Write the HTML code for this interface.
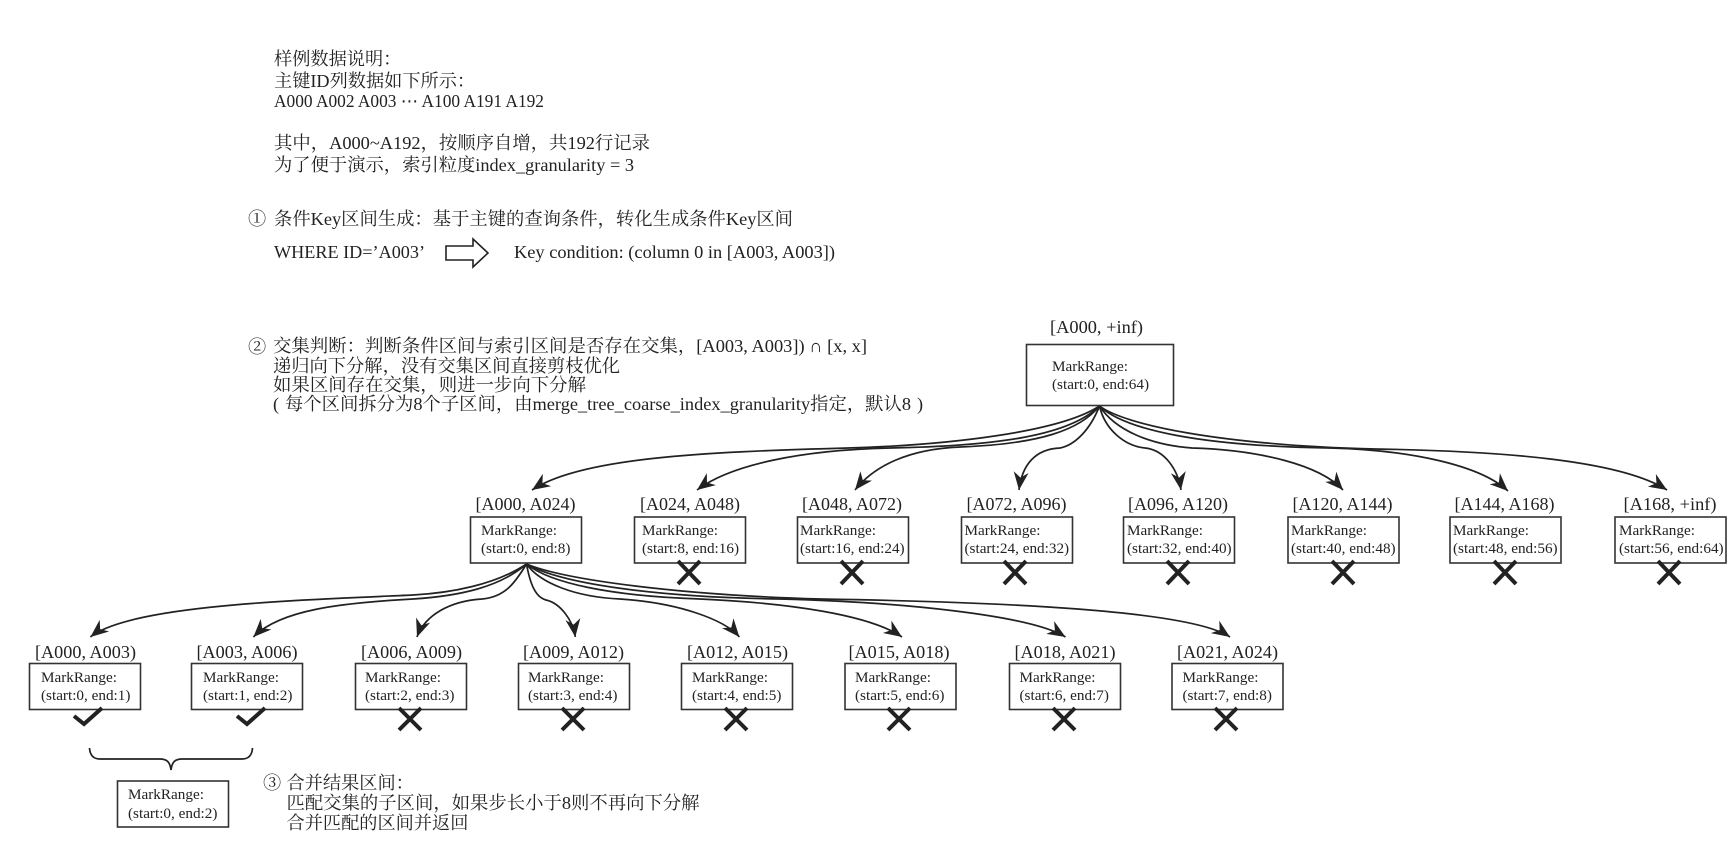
<!DOCTYPE html>
<html><head><meta charset="utf-8"><style>
html,body{margin:0;padding:0;background:#fff}
svg{display:block}
text{font-family:"Liberation Serif","Noto Serif CJK SC",serif;fill:#222}
.t{font-size:18.2px}
.l{font-size:18px}
.m{font-size:15.2px}
.b{fill:#fff;stroke:#333;stroke-width:1.6}
.c{fill:none;stroke:#222;stroke-width:1.7}
.x{fill:none;stroke:#222;stroke-width:4}
</style></head><body>
<svg width="1736" height="853" viewBox="0 0 1736 853" xmlns="http://www.w3.org/2000/svg">
<defs><marker id="a" markerUnits="userSpaceOnUse" markerWidth="20" markerHeight="18" refX="18" refY="8" orient="auto"><path d="M0,0.5 L18,8 L0,15.5 L5.5,8 Z" fill="#222"/></marker></defs>

<text class="t" x="274" y="65">样例数据说明：</text>
<text class="t" x="274" y="87">主键ID列数据如下所示：</text>
<text class="t" x="274" y="107" textLength="270" lengthAdjust="spacingAndGlyphs">A000 A002 A003 <tspan style="font-family:'DejaVu Sans',sans-serif">⋯</tspan> A100 A191 A192</text>
<text class="t" x="274" y="149" textLength="376" lengthAdjust="spacingAndGlyphs">其中，A000~A192，按顺序自增，共192行记录</text>
<text class="t" x="274" y="171" textLength="360" lengthAdjust="spacingAndGlyphs">为了便于演示，索引粒度index_granularity = 3</text>
<text class="t" x="248" y="225">①</text>
<text class="t" x="274" y="225" textLength="519" lengthAdjust="spacingAndGlyphs">条件Key区间生成：基于主键的查询条件，转化生成条件Key区间</text>
<text class="t" x="274" y="258" textLength="151" lengthAdjust="spacingAndGlyphs">WHERE ID=’A003’</text>
<path d="M446,246 H473 V239 L488,253 L473,267 V260 H446 Z" fill="#fff" stroke="#222" stroke-width="1.6"/>
<text class="t" x="514" y="258" textLength="321" lengthAdjust="spacingAndGlyphs">Key condition: (column 0 in [A003, A003])</text>
<text class="t" x="248" y="353">②</text>
<text class="t" x="273" y="352" textLength="594" lengthAdjust="spacingAndGlyphs">交集判断：判断条件区间与索引区间是否存在交集，[A003, A003]) ∩ [x, x]</text>
<text class="t" x="273" y="372" textLength="347" lengthAdjust="spacingAndGlyphs">递归向下分解，没有交集区间直接剪枝优化</text>
<text class="t" x="273" y="391" textLength="313" lengthAdjust="spacingAndGlyphs">如果区间存在交集，则进一步向下分解</text>
<text class="t" x="273" y="410">(</text>
<text class="t" x="285" y="410" textLength="626" lengthAdjust="spacingAndGlyphs">每个区间拆分为8个子区间，由merge_tree_coarse_index_granularity指定，默认8</text>
<text class="t" x="917" y="410">)</text>

<!-- connectors root -->
<g class="c">
<path marker-end="url(#a)" d="M1099.5,406 C1060,432 950,445 848,448 C700,452 580,458 532,490"/>
<path marker-end="url(#a)" d="M1099.5,406 C1070,435 1000,446 890,448 C800,450 730,465 697,490"/>
<path marker-end="url(#a)" d="M1099.5,406 C1080,430 1040,444 960,447 C910,449 875,465 855,490"/>
<path marker-end="url(#a)" d="M1099.5,406 C1090,430 1075,445 1060,448 C1035,449 1022,465 1019,490"/>
<path marker-end="url(#a)" d="M1099.5,406 C1105,430 1125,446 1145,448 C1165,450 1178,470 1181,490"/>
<path marker-end="url(#a)" d="M1099.5,406 C1115,430 1150,445 1192,448 C1260,450 1320,465 1343,490"/>
<path marker-end="url(#a)" d="M1099.5,406 C1125,430 1200,446 1330,448 C1410,450 1480,465 1508,491"/>
<path marker-end="url(#a)" d="M1099.5,406 C1125,425 1220,445 1375,449 C1500,451 1620,460 1667,490"/>
</g>
<!-- connectors level 2 -->
<g class="c">
<path marker-end="url(#a)" d="M526.5,564 C495,585 450,593 413,595 C300,600 130,605 90.4,637"/>
<path marker-end="url(#a)" d="M526.5,564 C500,587 460,596 413,599 C340,603 280,610 253.4,637"/>
<path marker-end="url(#a)" d="M526.5,564 C515,583 505,597 482,599 C450,601 425,615 417,637"/>
<path marker-end="url(#a)" d="M526.5,564 C530,583 535,597 546,600 C560,603 573,620 575.3,637"/>
<path marker-end="url(#a)" d="M526.5,564 C540,583 575,597 620,599 C680,603 725,620 739.4,637"/>
<path marker-end="url(#a)" d="M526.5,564 C550,583 610,596 700,599 C790,603 870,615 902,637"/>
<path marker-end="url(#a)" d="M526.5,564 C560,583 650,597 780,599 C900,602 1030,615 1065.5,637"/>
<path marker-end="url(#a)" d="M526.5,564 C565,580 680,595 820,599 C1000,602 1190,610 1230,637"/>
</g>

<!-- root -->
<text class="l" x="1050" y="333" textLength="93" lengthAdjust="spacingAndGlyphs">[A000, +inf)</text>
<rect class="b" x="1026.5" y="344.5" width="147" height="61"/>
<text class="m" x="1052" y="371">MarkRange:</text><text class="m" x="1052" y="389">(start:0, end:64)</text>

<!-- level 2 -->
<text class="l" x="475.5" y="510" textLength="100" lengthAdjust="spacingAndGlyphs">[A000, A024)</text>
<rect class="b" x="470.5" y="517" width="111" height="46"/>
<text class="m" x="481" y="535">MarkRange:</text><text class="m" x="481" y="553">(start:0, end:8)</text>

<text class="l" x="640" y="510" textLength="100" lengthAdjust="spacingAndGlyphs">[A024, A048)</text>
<rect class="b" x="634.5" y="517" width="111" height="46"/>
<text class="m" x="642" y="535">MarkRange:</text><text class="m" x="642" y="553">(start:8, end:16)</text>

<text class="l" x="802" y="510" textLength="100" lengthAdjust="spacingAndGlyphs">[A048, A072)</text>
<rect class="b" x="797.5" y="517" width="111" height="46"/>
<text class="m" x="800" y="535">MarkRange:</text><text class="m" x="800" y="553">(start:16, end:24)</text>

<text class="l" x="966.5" y="510" textLength="100" lengthAdjust="spacingAndGlyphs">[A072, A096)</text>
<rect class="b" x="961.5" y="517" width="111" height="46"/>
<text class="m" x="964.5" y="535">MarkRange:</text><text class="m" x="964.5" y="553">(start:24, end:32)</text>

<text class="l" x="1128" y="510" textLength="100" lengthAdjust="spacingAndGlyphs">[A096, A120)</text>
<rect class="b" x="1123.5" y="517" width="111" height="46"/>
<text class="m" x="1127" y="535">MarkRange:</text><text class="m" x="1127" y="553">(start:32, end:40)</text>

<text class="l" x="1292.5" y="510" textLength="100" lengthAdjust="spacingAndGlyphs">[A120, A144)</text>
<rect class="b" x="1288" y="517" width="111" height="46"/>
<text class="m" x="1291" y="535">MarkRange:</text><text class="m" x="1291" y="553">(start:40, end:48)</text>

<text class="l" x="1454.5" y="510" textLength="100" lengthAdjust="spacingAndGlyphs">[A144, A168)</text>
<rect class="b" x="1450" y="517" width="111" height="46"/>
<text class="m" x="1453" y="535">MarkRange:</text><text class="m" x="1453" y="553">(start:48, end:56)</text>

<text class="l" x="1623.5" y="510" textLength="93" lengthAdjust="spacingAndGlyphs">[A168, +inf)</text>
<rect class="b" x="1615" y="517" width="111" height="46"/>
<text class="m" x="1619" y="535">MarkRange:</text><text class="m" x="1619" y="553">(start:56, end:64)</text>

<g class="x">
<path d="M678,561 L700,584 M700,561 L678,584"/>
<path d="M841,561 L863,584 M863,561 L841,584"/>
<path d="M1004,561 L1026,584 M1026,561 L1004,584"/>
<path d="M1167,561 L1189,584 M1189,561 L1167,584"/>
<path d="M1332,561 L1354,584 M1354,561 L1332,584"/>
<path d="M1494,561 L1516,584 M1516,561 L1494,584"/>
<path d="M1658,561 L1680,584 M1680,561 L1658,584"/>
</g>

<!-- level 3 -->
<text class="l" x="35" y="658" textLength="101" lengthAdjust="spacingAndGlyphs">[A000, A003)</text>
<rect class="b" x="29.5" y="663.5" width="111" height="46"/>
<text class="m" x="41" y="682">MarkRange:</text><text class="m" x="41" y="700">(start:0, end:1)</text>

<text class="l" x="196.5" y="658" textLength="101" lengthAdjust="spacingAndGlyphs">[A003, A006)</text>
<rect class="b" x="191.5" y="663.5" width="111" height="46"/>
<text class="m" x="203" y="682">MarkRange:</text><text class="m" x="203" y="700">(start:1, end:2)</text>

<text class="l" x="361" y="658" textLength="101" lengthAdjust="spacingAndGlyphs">[A006, A009)</text>
<rect class="b" x="355.5" y="663.5" width="111" height="46"/>
<text class="m" x="365" y="682">MarkRange:</text><text class="m" x="365" y="700">(start:2, end:3)</text>

<text class="l" x="523" y="658" textLength="101" lengthAdjust="spacingAndGlyphs">[A009, A012)</text>
<rect class="b" x="518.5" y="663.5" width="111" height="46"/>
<text class="m" x="528" y="682">MarkRange:</text><text class="m" x="528" y="700">(start:3, end:4)</text>

<text class="l" x="687" y="658" textLength="101" lengthAdjust="spacingAndGlyphs">[A012, A015)</text>
<rect class="b" x="681.5" y="663.5" width="111" height="46"/>
<text class="m" x="692" y="682">MarkRange:</text><text class="m" x="692" y="700">(start:4, end:5)</text>

<text class="l" x="848.5" y="658" textLength="101" lengthAdjust="spacingAndGlyphs">[A015, A018)</text>
<rect class="b" x="845" y="663.5" width="111" height="46"/>
<text class="m" x="855" y="682">MarkRange:</text><text class="m" x="855" y="700">(start:5, end:6)</text>

<text class="l" x="1014.5" y="658" textLength="101" lengthAdjust="spacingAndGlyphs">[A018, A021)</text>
<rect class="b" x="1009.5" y="663.5" width="111" height="46"/>
<text class="m" x="1019.5" y="682">MarkRange:</text><text class="m" x="1019.5" y="700">(start:6, end:7)</text>

<text class="l" x="1177" y="658" textLength="101" lengthAdjust="spacingAndGlyphs">[A021, A024)</text>
<rect class="b" x="1172" y="663.5" width="111" height="46"/>
<text class="m" x="1182.5" y="682">MarkRange:</text><text class="m" x="1182.5" y="700">(start:7, end:8)</text>

<g class="x">
<path d="M399,708 L421,730 M421,708 L399,730"/>
<path d="M562,708 L584,730 M584,708 L562,730"/>
<path d="M725,708 L747,730 M747,708 L725,730"/>
<path d="M888,708 L910,730 M910,708 L888,730"/>
<path d="M1053,708 L1075,730 M1075,708 L1053,730"/>
<path d="M1215,708 L1237,730 M1237,708 L1215,730"/>
<path d="M74,716 L84,724 L102,708"/>
<path d="M237,716 L247,724 L265,708"/>
</g>

<!-- brace -->
<path class="c" d="M89.5,748 C90,756 94,759 100,759 H160 C167,759 170,762 171,770 C172,762 175,759 182,759 H242 C248,759 252,756 252.5,748"/>
<rect class="b" x="117.5" y="781" width="111" height="46"/>
<text class="m" x="128" y="799">MarkRange:</text><text class="m" x="128" y="818">(start:0, end:2)</text>

<text class="t" x="263" y="789">③</text>
<text class="t" x="286.5" y="789">合并结果区间：</text>
<text class="t" x="286.5" y="809" textLength="413" lengthAdjust="spacingAndGlyphs">匹配交集的子区间，如果步长小于8则不再向下分解</text>
<text class="t" x="286.5" y="829">合并匹配的区间并返回</text>
</svg>
</body></html>
